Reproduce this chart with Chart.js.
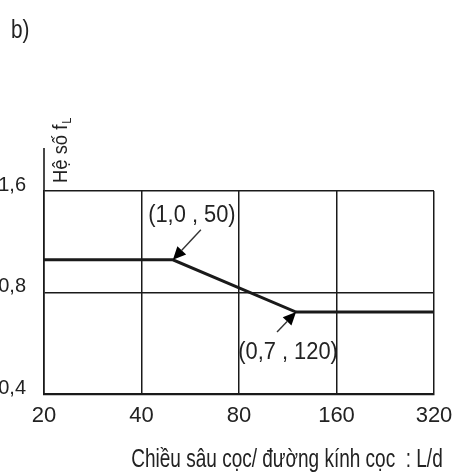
<!DOCTYPE html>
<html>
<head>
<meta charset="utf-8">
<script src="https://cdn.jsdelivr.net/npm/chart.js@4.4.1/dist/chart.umd.min.js"></script>
<style>
  html, body { margin: 0; padding: 0; background: #fff; }
</style>
</head>
<body>
<canvas id="chart" width="462" height="475"></canvas>
<script>
// data
const depthRatio = [20, 50, 120, 320];      // L/d
const factorFL = [1.0, 1.0, 0.7, 0.7];      // f_L
const xTicks = [20, 40, 80, 160, 320];
const xTickLabels = ["20", "40", "80", "160", "320"];
const yTicks = [0.4, 0.8, 1.6];
const yTickLabels = ["0,4", "0,8", "1,6"];
const noteX = [50, 120];
const noteY = [1.0, 0.7];
const noteText = ["(1,0 , 50)", "(0,7 , 120)"];

// where each note's label / arrow tail sits relative to its point (px)
const noteLayout = [
    { tx: 19, ty: -38, ax: 28, ay: -30 },
    { tx: -8, ty: 47, ax: -19, ay: 20 }
];

const textColor = "#222";
const lineColor = "#1a1a1a";

function hasFont(name) {
    const c = document.createElement("canvas").getContext("2d");
    c.font = "40px monospace";
    const a = c.measureText("0123456789abc").width;
    c.font = `40px "${name}", monospace`;
    return c.measureText("0123456789abc").width !== a;
}
const narrow = hasFont("Liberation Sans Narrow");
const xTickFont = narrow
    ? { family: "'Liberation Sans Narrow'", size: 26 }
    : { family: "'Liberation Sans', Arial", size: 22 };

// squeezed text, the scan is a little stretched vertically
function squeezeText(ctx, text, x, y, size, sx, align) {
    ctx.save();
    ctx.translate(x, y);
    ctx.scale(sx, 1);
    ctx.font = `${size}px 'Liberation Sans', Arial, sans-serif`;
    ctx.textAlign = align || "left";
    ctx.textBaseline = "alphabetic";
    ctx.fillStyle = textColor;
    ctx.fillText(text, 0, 0);
    ctx.restore();
}

const extrasPlugin = {
    id: "extras",
    afterDraw(chart) {
        const ctx = chart.ctx;
        const area = chart.chartArea;
        const xs = chart.scales.x;
        const ys = chart.scales.y;

        // y axis goes on above the top grid line
        ctx.save();
        ctx.strokeStyle = lineColor;
        ctx.lineWidth = 1.6;
        ctx.beginPath();
        ctx.moveTo(area.left, area.top);
        ctx.lineTo(area.left, area.top - 43);
        ctx.stroke();
        ctx.restore();

        squeezeText(ctx, "b)", 11, 38, 26, 0.8);

        // y title, rotated, with subscript L
        ctx.save();
        ctx.translate(area.left + 23, area.top - 8);
        ctx.rotate(-Math.PI / 2);
        ctx.scale(0.92, 1);
        ctx.fillStyle = textColor;
        ctx.textBaseline = "alphabetic";
        ctx.font = "20px 'Liberation Sans', Arial, sans-serif";
        const main = "Hệ số f";
        ctx.fillText(main, 0, 0);
        const w = ctx.measureText(main).width;
        ctx.font = "12px 'Liberation Sans', Arial, sans-serif";
        ctx.fillText("L", w + 1, 4);
        ctx.restore();

        // x title
        squeezeText(ctx, "Chiều sâu cọc/ đường kính cọc  : L/d", 287, 467, 25, 0.76, "center");

        // notes with arrows
        for (let i = 0; i < noteX.length; i++) {
            const px = xs.getPixelForValue(noteX[i]);
            const py = ys.getPixelForValue(noteY[i]);
            const lay = noteLayout[i];
            const tailX = px + lay.ax, tailY = py + lay.ay;
            const ang = Math.atan2(py - tailY, px - tailX);
            const headLen = 13, headW = 6;
            const bx = px - headLen * Math.cos(ang), by = py - headLen * Math.sin(ang);

            ctx.save();
            ctx.strokeStyle = "#333";
            ctx.lineWidth = 1.4;
            ctx.beginPath();
            ctx.moveTo(tailX, tailY);
            ctx.lineTo(bx, by);
            ctx.stroke();
            ctx.fillStyle = "#000";
            ctx.beginPath();
            ctx.moveTo(px, py);
            ctx.lineTo(bx + headW * Math.sin(ang), by - headW * Math.cos(ang));
            ctx.lineTo(bx - headW * Math.sin(ang), by + headW * Math.cos(ang));
            ctx.closePath();
            ctx.fill();
            ctx.restore();

            squeezeText(ctx, noteText[i], px + lay.tx, py + lay.ty, 23, 0.95, "center");
        }
    }
};

const ctx = document.getElementById("chart").getContext("2d");

new Chart(ctx, {
    type: "line",
    data: {
        datasets: [{
            label: "f_L",
            data: depthRatio.map((x, i) => ({ x: x, y: factorFL[i] })),
            borderColor: lineColor,
            borderWidth: 3,
            pointRadius: 0,
            tension: 0,
            fill: false
        }]
    },
    options: {
        responsive: false,
        animation: false,
        layout: {
            padding: { top: 191, right: 28, bottom: 0, left: 0 }
        },
        plugins: {
            legend: { display: false },
            title: { display: false },
            tooltip: { enabled: false }
        },
        scales: {
            x: {
                type: "logarithmic",
                min: 20,
                max: 320,
                afterBuildTicks: s => { s.ticks = xTicks.map(v => ({ value: v })); },
                afterFit: s => { s.height = 81; },
                grid: { color: lineColor, lineWidth: 1.5, drawTicks: false },
                border: { display: true, color: lineColor, width: 2.2 },
                ticks: {
                    color: textColor,
                    font: xTickFont,
                    padding: 9,
                    maxRotation: 0,
                    autoSkip: false,
                    callback: (v, i) => xTickLabels[i]
                }
            },
            y: {
                type: "logarithmic",
                min: 0.4,
                max: 1.6,
                afterBuildTicks: s => { s.ticks = yTicks.map(v => ({ value: v })); },
                afterFit: s => { s.width = 44; },
                grid: { color: lineColor, lineWidth: 1.5, drawTicks: false },
                border: { display: true, color: lineColor, width: 1.6 },
                ticks: {
                    color: textColor,
                    font: { family: "'Liberation Sans', Arial", size: 20 },
                    padding: 18,
                    labelOffset: -6,
                    autoSkip: false,
                    callback: (v, i) => yTickLabels[i]
                }
            }
        }
    },
    plugins: [extrasPlugin]
});
</script>
</body>
</html>
